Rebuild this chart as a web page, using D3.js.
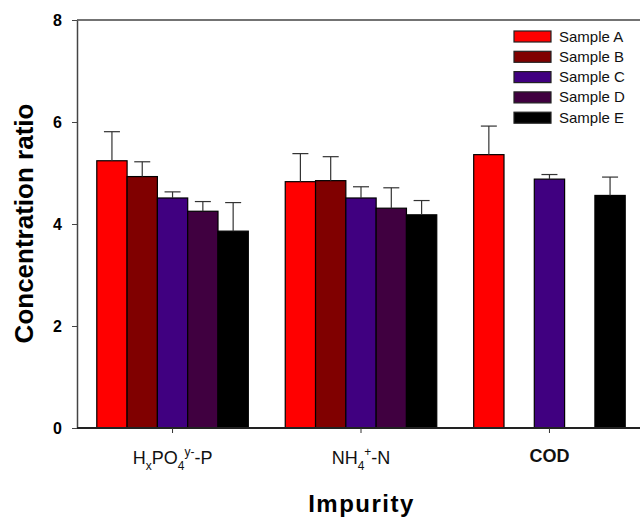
<!DOCTYPE html>
<html>
<head>
<meta charset="utf-8">
<script src="https://cdn.jsdelivr.net/npm/d3@7"></script>
<style>
  body { margin: 0; background: #fff; }
  text { font-family: "Liberation Sans", Arial, sans-serif; }
</style>
</head>
<body>
<svg id="container" width="640" height="518"></svg>
<script>
let width = 640,
    height = 518;

// data
let groups = ["HxPO4", "NH4", "COD"]
let samples = ["Sample A", "Sample B", "Sample C", "Sample D", "Sample E"]
let colors = ["#ff0000", "#800000", "#400080", "#400040", "#000000"]

let sampleA = [5.24, 4.83, 5.36]
let sampleB = [4.93, 4.85, null]
let sampleC = [4.51, 4.51, 4.88]
let sampleD = [4.25, 4.31, null]
let sampleE = [3.86, 4.18, 4.56]

let errA = [0.57, 0.55, 0.56]
let errB = [0.29, 0.47, null]
let errC = [0.12, 0.22, 0.09]
let errD = [0.19, 0.40, null]
let errE = [0.56, 0.28, 0.36]

let yTicks = [0, 2, 4, 6, 8]

let means = [sampleA, sampleB, sampleC, sampleD, sampleE]
let errs = [errA, errB, errC, errD, errE]

let rows = []
samples.forEach((s, i) => {
    groups.forEach((g, j) => {
        if (means[i][j] != null) {
            rows.push({ sample: s, group: g, value: means[i][j], err: errs[i][j], color: colors[i] })
        }
    })
})

let svg = d3.select("#container")

let plotLeft = 77, plotTop = 20, plotBottom = 428

let yScale = d3.scaleLinear()
    .domain([0, 8])
    .range([plotBottom, plotTop])

let xScale = d3.scaleBand()
    .domain(groups)
    .range([plotLeft, 645])
    .paddingInner(0.196)
    .paddingOuter(0.105)

let xInner = d3.scaleBand()
    .domain(samples)
    .range([0, xScale.bandwidth()])

// top frame line
svg.append("line")
    .attr("x1", plotLeft)
    .attr("x2", width)
    .attr("y1", yScale(8))
    .attr("y2", yScale(8))
    .attr("stroke", "#444")
    .attr("stroke-width", 1.5)

// bars
svg.append("g")
    .selectAll("rect")
    .data(rows)
    .enter()
    .append("rect")
    .attr("x", d => xScale(d.group) + xInner(d.sample))
    .attr("y", d => yScale(d.value))
    .attr("width", xInner.bandwidth())
    .attr("height", d => yScale(0) - yScale(d.value))
    .attr("fill", d => d.color)
    .attr("stroke", "#000")
    .attr("stroke-width", 1.2)

// error bars (upper only)
let eb = svg.append("g")
    .selectAll("g")
    .data(rows)
    .enter()
    .append("g")
    .attr("stroke", "#333")
    .attr("stroke-width", 1.2)

eb.append("line")
    .attr("x1", d => xScale(d.group) + xInner(d.sample) + xInner.bandwidth() / 2)
    .attr("x2", d => xScale(d.group) + xInner(d.sample) + xInner.bandwidth() / 2)
    .attr("y1", d => yScale(d.value))
    .attr("y2", d => yScale(d.value + d.err))

eb.append("line")
    .attr("x1", d => xScale(d.group) + xInner(d.sample) + xInner.bandwidth() / 2 - 8)
    .attr("x2", d => xScale(d.group) + xInner(d.sample) + xInner.bandwidth() / 2 + 8)
    .attr("y1", d => yScale(d.value + d.err))
    .attr("y2", d => yScale(d.value + d.err))

// y axis
let y = svg.append("g")
    .attr("transform", "translate(" + plotLeft + ",0)")
    .call(d3.axisLeft(yScale)
        .tickValues(yTicks)
        .tickSize(5)
        .tickPadding(10)
        .tickSizeOuter(0))
y.select(".domain").attr("stroke", "#444").attr("stroke-width", 1.5)
y.selectAll(".tick line").attr("stroke", "#444")
y.selectAll(".tick text")
    .attr("font-family", "'Liberation Sans', Arial, sans-serif")
    .attr("font-size", "16px")
    .attr("font-weight", "bold")
    .attr("fill", "#000")

// x axis
let x = svg.append("g")
    .attr("transform", "translate(0," + plotBottom + ")")
    .call(d3.axisBottom(xScale).tickSize(5).tickSizeOuter(0).tickFormat(""))
x.select(".domain")
    .attr("d", "M" + plotLeft + ",0H" + width)
    .attr("stroke", "#222")
    .attr("stroke-width", 1.8)
x.selectAll(".tick line").attr("stroke", "#333")

let cx = g => xScale(g) + xScale.bandwidth() / 2

// x tick labels with sub/superscripts
let t1 = svg.append("text")
    .attr("x", cx("HxPO4"))
    .attr("y", 464)
    .attr("text-anchor", "middle")
    .attr("font-size", "18px")
    .attr("fill", "#111")
t1.append("tspan").text("H")
t1.append("tspan").text("x").attr("font-size", "12px").attr("dy", 6)
t1.append("tspan").text("PO").attr("dy", -6)
t1.append("tspan").text("4").attr("font-size", "12px").attr("dy", 6)
t1.append("tspan").text("y-").attr("font-size", "12px").attr("dy", -14)
t1.append("tspan").text("-P").attr("dy", 8)

let t2 = svg.append("text")
    .attr("x", cx("NH4"))
    .attr("y", 464)
    .attr("text-anchor", "middle")
    .attr("font-size", "18px")
    .attr("fill", "#111")
t2.append("tspan").text("NH")
t2.append("tspan").text("4").attr("font-size", "12px").attr("dy", 6)
t2.append("tspan").text("+").attr("font-size", "12px").attr("dy", -14)
t2.append("tspan").text("-N").attr("dy", 8)

svg.append("text")
    .attr("x", cx("COD"))
    .attr("y", 462)
    .attr("text-anchor", "middle")
    .attr("font-size", "18px")
    .attr("font-weight", "bold")
    .attr("fill", "#111")
    .text("COD")

// axis titles
svg.append("text")
    .attr("transform", "translate(32.5," + 223.5 + ") rotate(-90)")
    .attr("text-anchor", "middle")
    .attr("font-size", "26px")
    .attr("font-weight", "bold")
    .attr("fill", "#000")
    .text("Concentration ratio")

svg.append("text")
    .attr("x", 361.5)
    .attr("y", 511.5)
    .attr("text-anchor", "middle")
    .attr("font-size", "24px")
    .attr("font-weight", "bold")
    .attr("letter-spacing", "1.5px")
    .attr("fill", "#000")
    .text("Impurity")

// legend
let legend = svg.append("g")
    .selectAll("g")
    .data(samples)
    .enter()
    .append("g")
    .attr("transform", (d, i) => "translate(514," + (31 + i * 20.3) + ")")

legend.append("rect")
    .attr("width", 37)
    .attr("height", 11)
    .attr("fill", (d, i) => colors[i])
    .attr("stroke", "#222")
    .attr("stroke-width", 1.2)

legend.append("text")
    .attr("x", 45)
    .attr("y", 10.5)
    .attr("font-size", "15px")
    .attr("fill", "#111")
    .text(d => d)
</script>
</body>
</html>
